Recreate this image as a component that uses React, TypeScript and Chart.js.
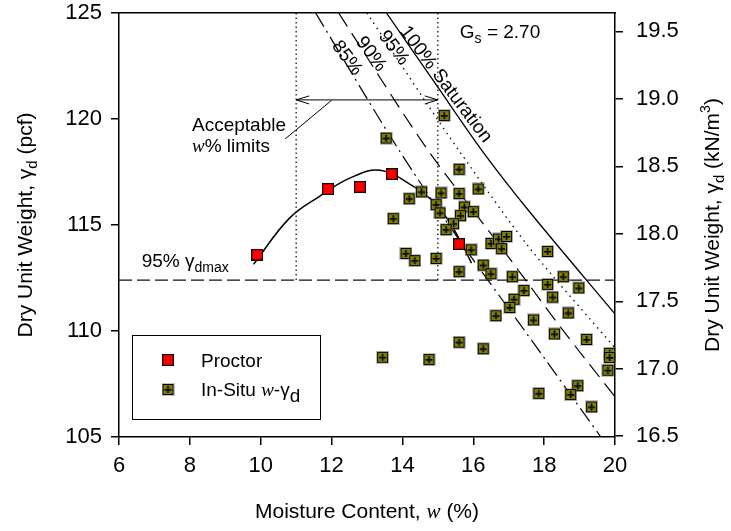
import React, { useEffect, useRef } from 'react';
import { Chart, registerables } from 'chart.js';

Chart.register(...registerables);

// Standard Proctor compaction test results
const proctorMoisture = [9.9, 11.9, 12.8, 13.7, 15.6];
const proctorDryUnitWeight = [113.6, 116.7, 116.8, 117.4, 114.1];

// Compaction curve through the Proctor points
const curveMoisture = [9.8, 10.8, 11.66, 12.5, 13.37, 14.31, 14.87, 15.25, 15.62, 15.95];
const curveDryUnitWeight = [113.15, 115.3, 116.35, 117.2, 117.58, 116.82, 116.11, 115.33, 114.3, 113.2];

// Field density tests
const insituMoisture = [
  15.18, 13.54, 15.6, 16.14, 14.19, 14.54, 15.09, 15.6, 14.95, 13.74, 15.06, 15.75, 16.0,
  15.64, 15.44, 15.23, 14.1, 14.35, 14.95, 15.94, 16.5, 16.71, 16.94, 16.8, 16.28, 15.6,
  16.5, 17.1, 17.43, 17.15, 18.1, 18.54, 18.1, 18.98, 18.24, 17.03, 18.68, 17.7, 18.29,
  19.2, 19.85, 19.85, 19.8, 18.95, 18.75, 17.85, 19.34, 16.64, 15.6, 16.28, 13.44, 14.75,
];
const insituDryUnitWeight = [
  120.16, 119.1, 117.63, 116.7, 116.24, 116.56, 116.51, 116.48, 115.96, 115.3, 115.57, 115.85,
  115.63, 115.44, 115.06, 114.78, 113.66, 113.32, 113.42, 113.83, 114.13, 114.34, 114.46,
  113.88, 113.11, 112.8, 112.7, 112.56, 111.91, 111.5, 113.75, 112.56, 112.2, 112.03, 111.6,
  111.11, 110.85, 110.52, 109.86, 109.6, 108.95, 108.75, 108.15, 107.42, 107.0, 107.06,
  106.42, 110.72, 109.47, 109.16, 108.76, 108.65,
];

// Degree-of-saturation lines for Gs = 2.70
const sat100Moisture = [13.55, 15, 16.25, 17.6, 20];
const sat100DryUnitWeight = [125, 121.5, 118.5, 115.6, 110.8];
const sat95Moisture = [13.0, 14.7, 15.6, 17.55, 20];
const sat95DryUnitWeight = [125, 120.7, 118.5, 114.0, 109.2];
const sat90Moisture = [12.2, 14.65, 16.9, 18.5, 20];
const sat90DryUnitWeight = [125, 118.7, 113.7, 110.1, 106.9];
const sat85Moisture = [11.55, 13.8, 15.6, 17.5, 19.6];
const sat85DryUnitWeight = [125, 118.8, 114.3, 109.9, 105];

// Acceptance criteria
const gammaDmax95 = 112.4;
const moistureLimits = [11, 15];
const arrowLevel = 120.9;

// Axis ticks
const moistureTicks = [6, 8, 10, 12, 14, 16, 18, 20];
const pcfTicks = [105, 110, 115, 120, 125];
const kNTicks = [16.5, 17.0, 17.5, 18.0, 18.5, 19.0, 19.5];
const PCF_MIN = 105;
const PCF_MAX = 125;
const PCF_TO_KN = 0.157087;

const SANS = '"Liberation Sans", Arial, Helvetica, sans-serif';
const SERIF = '"Liberation Serif", "Times New Roman", serif';

const toXY = (xs: number[], ys: number[]) => xs.map((x, i) => ({ x, y: ys[i] }));

function makeInsituMarker() {
  const c = document.createElement('canvas');
  c.width = 13;
  c.height = 13;
  const g = c.getContext('2d')!;
  g.fillStyle = 'rgba(120,120,120,0.45)';
  g.fillRect(0, 0, 13, 13);
  g.fillStyle = '#808000';
  g.fillRect(1, 1, 11, 11);
  g.strokeStyle = '#000';
  g.lineWidth = 1;
  g.strokeRect(1.5, 1.5, 10, 10);
  g.fillStyle = '#000';
  g.fillRect(3, 6, 7, 1.6);
  g.fillRect(5.7, 3, 1.6, 7);
  return c;
}

function makeProctorMarker() {
  const c = document.createElement('canvas');
  c.width = 12;
  c.height = 12;
  const g = c.getContext('2d')!;
  g.fillStyle = '#ff0000';
  g.fillRect(0, 0, 12, 12);
  g.strokeStyle = '#000';
  g.lineWidth = 1.2;
  g.strokeRect(0.6, 0.6, 10.8, 10.8);
  return c;
}

type Run = { t: string; f: string; dy?: number };

function drawRuns(ctx: CanvasRenderingContext2D, runs: Run[], x: number, y: number, align: 'left' | 'center') {
  let w = 0;
  for (const r of runs) {
    ctx.font = r.f;
    w += ctx.measureText(r.t).width;
  }
  let cx = align === 'center' ? x - w / 2 : x;
  ctx.textAlign = 'left';
  ctx.textBaseline = 'alphabetic';
  ctx.fillStyle = '#000';
  for (const r of runs) {
    ctx.font = r.f;
    ctx.fillText(r.t, cx, y + (r.dy || 0));
    cx += ctx.measureText(r.t).width;
  }
}

const sans = (s: number) => `${s}px ${SANS}`;
const ital = (s: number) => `italic ${s}px ${SERIF}`;

export default function App() {
  const ref = useRef<HTMLCanvasElement | null>(null);

  useEffect(() => {
    const canvas = ref.current;
    if (!canvas) return;
    const insituMarker = makeInsituMarker();
    const proctorMarker = makeProctorMarker();

    const annotations = {
      id: 'soilAnnotations',
      afterDraw(chart: any) {
        const ctx: CanvasRenderingContext2D = chart.ctx;
        const xs = chart.scales.x;
        const ys = chart.scales.y;
        const px = (v: number) => xs.getPixelForValue(v);
        const py = (v: number) => ys.getPixelForValue(v);
        const area = chart.chartArea;
        ctx.save();

        // double arrow between moisture limits
        const ay = py(arrowLevel);
        const x1 = px(moistureLimits[0]);
        const x2 = px(moistureLimits[1]);
        ctx.strokeStyle = '#000';
        ctx.lineWidth = 1;
        ctx.beginPath();
        ctx.moveTo(x1, ay);
        ctx.lineTo(x2, ay);
        ctx.moveTo(x1 + 13, ay - 4);
        ctx.lineTo(x1, ay);
        ctx.lineTo(x1 + 13, ay + 4);
        ctx.moveTo(x2 - 13, ay - 4);
        ctx.lineTo(x2, ay);
        ctx.lineTo(x2 - 13, ay + 4);
        // leader to label
        ctx.moveTo(px(12.0), py(120.88));
        ctx.lineTo(px(10.69), py(119.06));
        ctx.stroke();

        // text labels
        drawRuns(ctx, [{ t: 'Acceptable', f: sans(19) }], px(8.06), py(119.78) + 7, 'left');
        drawRuns(ctx, [{ t: 'w', f: ital(19) }, { t: '% limits', f: sans(19) }], px(8.06), py(118.79) + 7, 'left');
        drawRuns(ctx, [{ t: '95% γ', f: sans(19) }, { t: 'dmax', f: sans(14), dy: 5 }], px(6.64), py(113.36) + 7, 'left');
        drawRuns(ctx, [{ t: 'G', f: sans(19) }, { t: 's', f: sans(14), dy: 5 }, { t: ' = 2.70', f: sans(19) }], px(15.62), py(124.13) + 7, 'left');

        const ang = (53 * Math.PI) / 180;
        const rot = (text: string, wv: number, gv: number) => {
          ctx.save();
          ctx.translate(px(wv), py(gv));
          ctx.rotate(ang);
          drawRuns(ctx, [{ t: text, f: sans(19) }], 0, 7, 'center');
          ctx.restore();
        };
        rot('100% Saturation', 15.26, 121.68);
        rot('95%', 13.79, 123.4);
        rot('90%', 13.15, 123.11);
        rot('85%', 12.47, 122.92);

        // axis titles
        drawRuns(
          ctx,
          [{ t: 'Moisture Content, ', f: sans(21) }, { t: 'w', f: ital(21) }, { t: ' (%)', f: sans(21) }],
          (area.left + area.right) / 2,
          518,
          'center'
        );
        const midY = (area.top + area.bottom) / 2;
        ctx.save();
        ctx.translate(32, midY);
        ctx.rotate(-Math.PI / 2);
        drawRuns(
          ctx,
          [{ t: 'Dry Unit Weight, γ', f: sans(21) }, { t: 'd', f: sans(15), dy: 5 }, { t: ' (pcf)', f: sans(21) }],
          0,
          0,
          'center'
        );
        ctx.restore();
        ctx.save();
        ctx.translate(719, midY);
        ctx.rotate(-Math.PI / 2);
        drawRuns(
          ctx,
          [
            { t: 'Dry Unit Weight, γ', f: sans(21) },
            { t: 'd', f: sans(15), dy: 5 },
            { t: ' (kN/m', f: sans(21) },
            { t: '3', f: sans(14), dy: -9 },
            { t: ')', f: sans(21) },
          ],
          0,
          0,
          'center'
        );
        ctx.restore();

        // legend
        const lx = area.left + 13;
        const lt = area.top + 322;
        ctx.strokeStyle = '#000';
        ctx.lineWidth = 1;
        ctx.strokeRect(Math.round(lx) + 0.5, Math.round(lt) + 0.5, 188, 84);
        ctx.drawImage(proctorMarker, lx + 30, lt + 19);
        ctx.drawImage(insituMarker, lx + 29.5, lt + 48);
        drawRuns(ctx, [{ t: 'Proctor', f: sans(19) }], lx + 69, lt + 32, 'left');
        drawRuns(
          ctx,
          [
            { t: 'In-Situ ', f: sans(19) },
            { t: 'w', f: ital(19) },
            { t: '-γ', f: sans(19) },
            { t: 'd', f: sans(19), dy: 6 },
          ],
          lx + 69,
          lt + 61,
          'left'
        );
        ctx.restore();
      },
    };

    const lineDs = (data: any[], dash: number[], width = 1.2, color = '#000', tension = 0.3) => ({
      data,
      showLine: true,
      pointRadius: 0,
      borderColor: color,
      borderWidth: width,
      borderDash: dash,
      tension,
      fill: false,
      order: 5,
    });

    const tickFont = { family: SANS, size: 22, lineHeight: 1 };
    const axisCommon = {
      grid: { drawOnChartArea: false, drawTicks: true, tickLength: 8, color: '#000', lineWidth: 1.5 },
      border: { display: true, color: '#000', width: 1.5 },
    };
    // label overflow is handled by the fixed outer margins, so no extra scale padding
    const noPad = (s: any) => {
      s.paddingTop = 0;
      s.paddingBottom = 0;
      s.paddingLeft = 0;
      s.paddingRight = 0;
    };

    const chart = new Chart(canvas, {
      type: 'scatter',
      data: {
        datasets: [
          {
            data: toXY(proctorMoisture, proctorDryUnitWeight),
            pointStyle: proctorMarker as any,
            pointRadius: 6,
            clip: false as any,
            order: 0,
          },
          {
            data: toXY(insituMoisture, insituDryUnitWeight),
            pointStyle: insituMarker as any,
            pointRadius: 6,
            clip: false as any,
            order: 1,
          },
          { ...lineDs(toXY(curveMoisture, curveDryUnitWeight), [], 1.5, '#000', 0.4), order: 2 },
          lineDs(toXY(sat100Moisture, sat100DryUnitWeight), [], 1.3),
          lineDs(toXY(sat95Moisture, sat95DryUnitWeight), [1.5, 4.5], 1.3),
          lineDs(toXY(sat90Moisture, sat90DryUnitWeight), [16, 8], 1.2),
          lineDs(toXY(sat85Moisture, sat85DryUnitWeight), [16, 5, 2, 5], 1.2),
          lineDs([{ x: 6, y: gammaDmax95 }, { x: 20, y: gammaDmax95 }], [13, 5], 1.2, '#111', 0),
          lineDs([{ x: moistureLimits[0], y: PCF_MAX }, { x: moistureLimits[0], y: gammaDmax95 }], [1.5, 3], 1.2, '#000', 0),
          lineDs([{ x: moistureLimits[1], y: PCF_MAX }, { x: moistureLimits[1], y: gammaDmax95 }], [1.5, 3], 1.2, '#000', 0),
        ],
      },
      options: {
        responsive: false,
        animation: false,
        devicePixelRatio: 1,
        layout: { padding: 0, autoPadding: false },
        plugins: { legend: { display: false }, tooltip: { enabled: false } },
        scales: {
          x: {
            type: 'linear',
            position: 'bottom',
            min: 6,
            max: 20,
            afterBuildTicks: (s: any) => {
              s.ticks = moistureTicks.map((v) => ({ value: v }));
            },
            ticks: { font: tickFont, color: '#000', padding: 10, maxRotation: 0, callback: (v: any) => String(v) },
            ...axisCommon,
            afterFit: (s: any) => {
              s.height = 94;
              noPad(s);
            },
          },
          xTop: {
            type: 'linear',
            position: 'top',
            min: 6,
            max: 20,
            ticks: { display: false },
            grid: { display: false },
            border: { display: true, color: '#000', width: 1.5 },
            afterFit: (s: any) => {
              s.height = 13;
              noPad(s);
            },
          },
          y: {
            type: 'linear',
            position: 'left',
            min: PCF_MIN,
            max: PCF_MAX,
            afterBuildTicks: (s: any) => {
              s.ticks = pcfTicks.map((v) => ({ value: v }));
            },
            ticks: { font: tickFont, color: '#000', padding: 9, callback: (v: any) => String(v) },
            ...axisCommon,
            afterFit: (s: any) => {
              s.width = 119;
              noPad(s);
            },
          },
          y2: {
            type: 'linear',
            position: 'right',
            min: PCF_MIN * PCF_TO_KN,
            max: PCF_MAX * PCF_TO_KN,
            afterBuildTicks: (s: any) => {
              s.ticks = kNTicks.map((v) => ({ value: v }));
            },
            ticks: { font: tickFont, color: '#000', padding: 13, callback: (v: any) => Number(v).toFixed(1) },
            ...axisCommon,
            afterFit: (s: any) => {
              s.width = 116;
              noPad(s);
            },
          },
        },
      } as any,
      plugins: [annotations],
    });

    return () => chart.destroy();
  }, []);

  return (
    <div style={{ position: 'absolute', left: 0, top: 0, width: 731, height: 531, background: '#fff' }}>
      <canvas ref={ref} width={731} height={531} style={{ display: 'block' }} />
    </div>
  );
}
